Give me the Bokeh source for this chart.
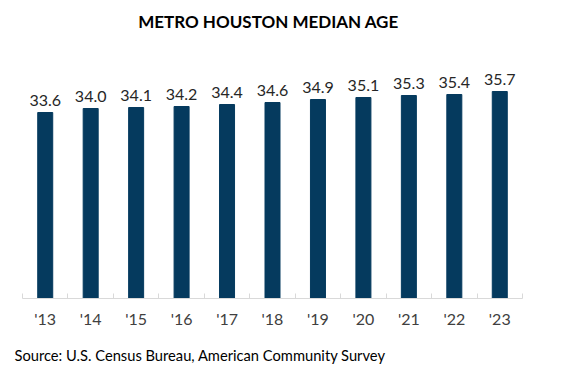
from bokeh.plotting import figure
from bokeh.models import Range1d, FixedTicker, Title, Label, ColumnDataSource
from bokeh.core.properties import value
from bokeh.embed import file_html
from bokeh.resources import INLINE

years = ["'13", "'14", "'15", "'16", "'17", "'18", "'19", "'20", "'21", "'22", "'23"]
median_age = [33.6, 34.0, 34.1, 34.2, 34.4, 34.6, 34.9, 35.1, 35.3, 35.4, 35.7]
title_text = "METRO HOUSTON MEDIAN AGE"
source_text = "Source: U.S. Census Bureau, American Community Survey"

FONT = "Lato"
BAR = "#053a5e"

idx = list(range(len(years)))
src = ColumnDataSource(dict(x=idx, y=median_age, lab=[f"{v:.1f}" for v in median_age]))

p = figure(width=568, height=376, output_backend="svg", toolbar_location=None,
           x_range=Range1d(-0.5, len(years) - 0.5), y_range=Range1d(15, 44.8),
           y_axis_location=None, min_border_left=22, min_border_right=46,
           min_border_top=0, min_border_bottom=78)
p.outline_line_color = None
p.xgrid.visible = False
p.ygrid.visible = False
p.background_fill_color = "white"
p.border_fill_color = "white"

p.vbar(x="x", top="y", bottom=15, width=0.33, color=BAR, source=src)
p.text(x="x", y="y", text="lab", source=src, text_align="center", text_baseline="alphabetic",
       y_offset=-12, text_font=value(FONT), text_font_size="16px", text_color="#262626")

ax = p.xaxis[0]
ax.ticker = FixedTicker(ticks=idx, minor_ticks=[i - 0.5 for i in range(len(years) + 1)])
ax.major_label_overrides = {i: y for i, y in enumerate(years)}
ax.major_tick_in = 0
ax.major_tick_out = 0
ax.minor_tick_in = 5
ax.minor_tick_out = 0
ax.minor_tick_line_color = "#d9d9d9"
ax.axis_line_color = "#d9d9d9"
ax.axis_line_width = 1
ax.major_label_standoff = 10
ax.major_label_text_font = FONT
ax.major_label_text_font_size = "16px"
ax.major_label_text_color = "#404040"

# title inside the (tall) frame; screen units measured from the frame's bottom-left
p.add_layout(Label(x=246, y=277, x_units="screen", y_units="screen", text=title_text,
                   text_font=FONT, text_font_style="bold", text_font_size="17px",
                   text_align="center", text_baseline="middle", text_color="#000000"))

src_title = Title(text=source_text, align="left", vertical_align="bottom", offset=-8,
                  text_font=FONT, text_font_size="14.7px", text_font_style="normal",
                  text_color="#000000", standoff=26)
p.add_layout(src_title, "below")

open("out.html", "w").write(file_html(p, INLINE))
